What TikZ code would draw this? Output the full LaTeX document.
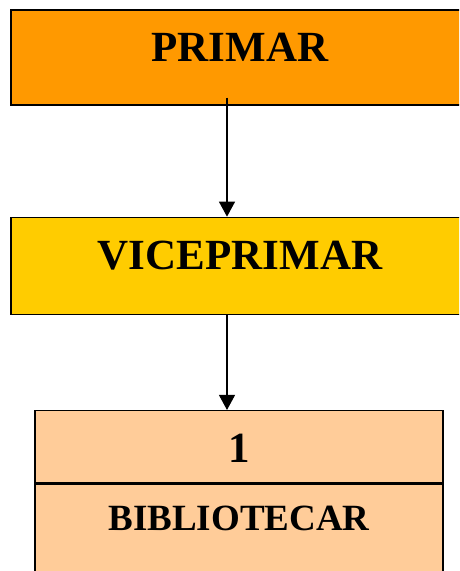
\documentclass[tikz,border=0pt]{standalone}
\usepackage{fontspec}
\setmainfont{Liberation Serif}
\usepackage{tikz}
\usepackage{xcolor}
\usetikzlibrary{positioning,arrows.meta}
\definecolor{primarorange}{HTML}{FF9900}
\definecolor{viceyellow}{HTML}{FFCC00}
\definecolor{bibpeach}{HTML}{FFCC99}
\tikzset{rankbox/.style={draw=black,line width=1.3pt,inner sep=0pt,minimum width=458pt,minimum height=95pt,text height=29pt,text depth=22pt,font=\bfseries\fontsize{43}{50}\selectfont}}
\tikzset{bibbox/.style={draw=black,line width=1.3pt,fill=bibpeach,inner sep=0pt,minimum width=408pt}}
\tikzset{earrow/.style={-{Triangle[width=16pt,length=15pt]},line width=1.2pt}}

\begin{document}
\begin{tikzpicture}[x=1pt,y=-1pt]
            % fix the page
            \clip (0,0) rectangle (459,571);
            \fill[white] (0,0) rectangle (459,571);
            % draw the boxes
            \node[rankbox,fill=primarorange] (primar) at (240,57.5) {PRIMAR};
            \node[rankbox,fill=viceyellow,minimum height=97pt,below=111pt of primar] (vice) {VICEPRIMAR};
            \node[bibbox,minimum height=72pt,text height=32pt,text depth=0pt,font=\bfseries\fontsize{43}{50}\selectfont,below=95pt of vice,xshift=-1pt] (num) {1};
            \node[bibbox,minimum height=120pt,text height=25pt,text depth=51pt,font=\bfseries\fontsize{37}{44}\selectfont,below=0pt of num] (bib) {BIBLIOTECAR};

            % draw the arrows
            \draw[earrow] ([xshift=-13pt,yshift=8pt]primar.south) -- ([xshift=-13pt]vice.north);
            \draw[earrow] ([xshift=-13pt]vice.south) -- ([xshift=-12pt]num.north);
        \end{tikzpicture}
\end{document}
